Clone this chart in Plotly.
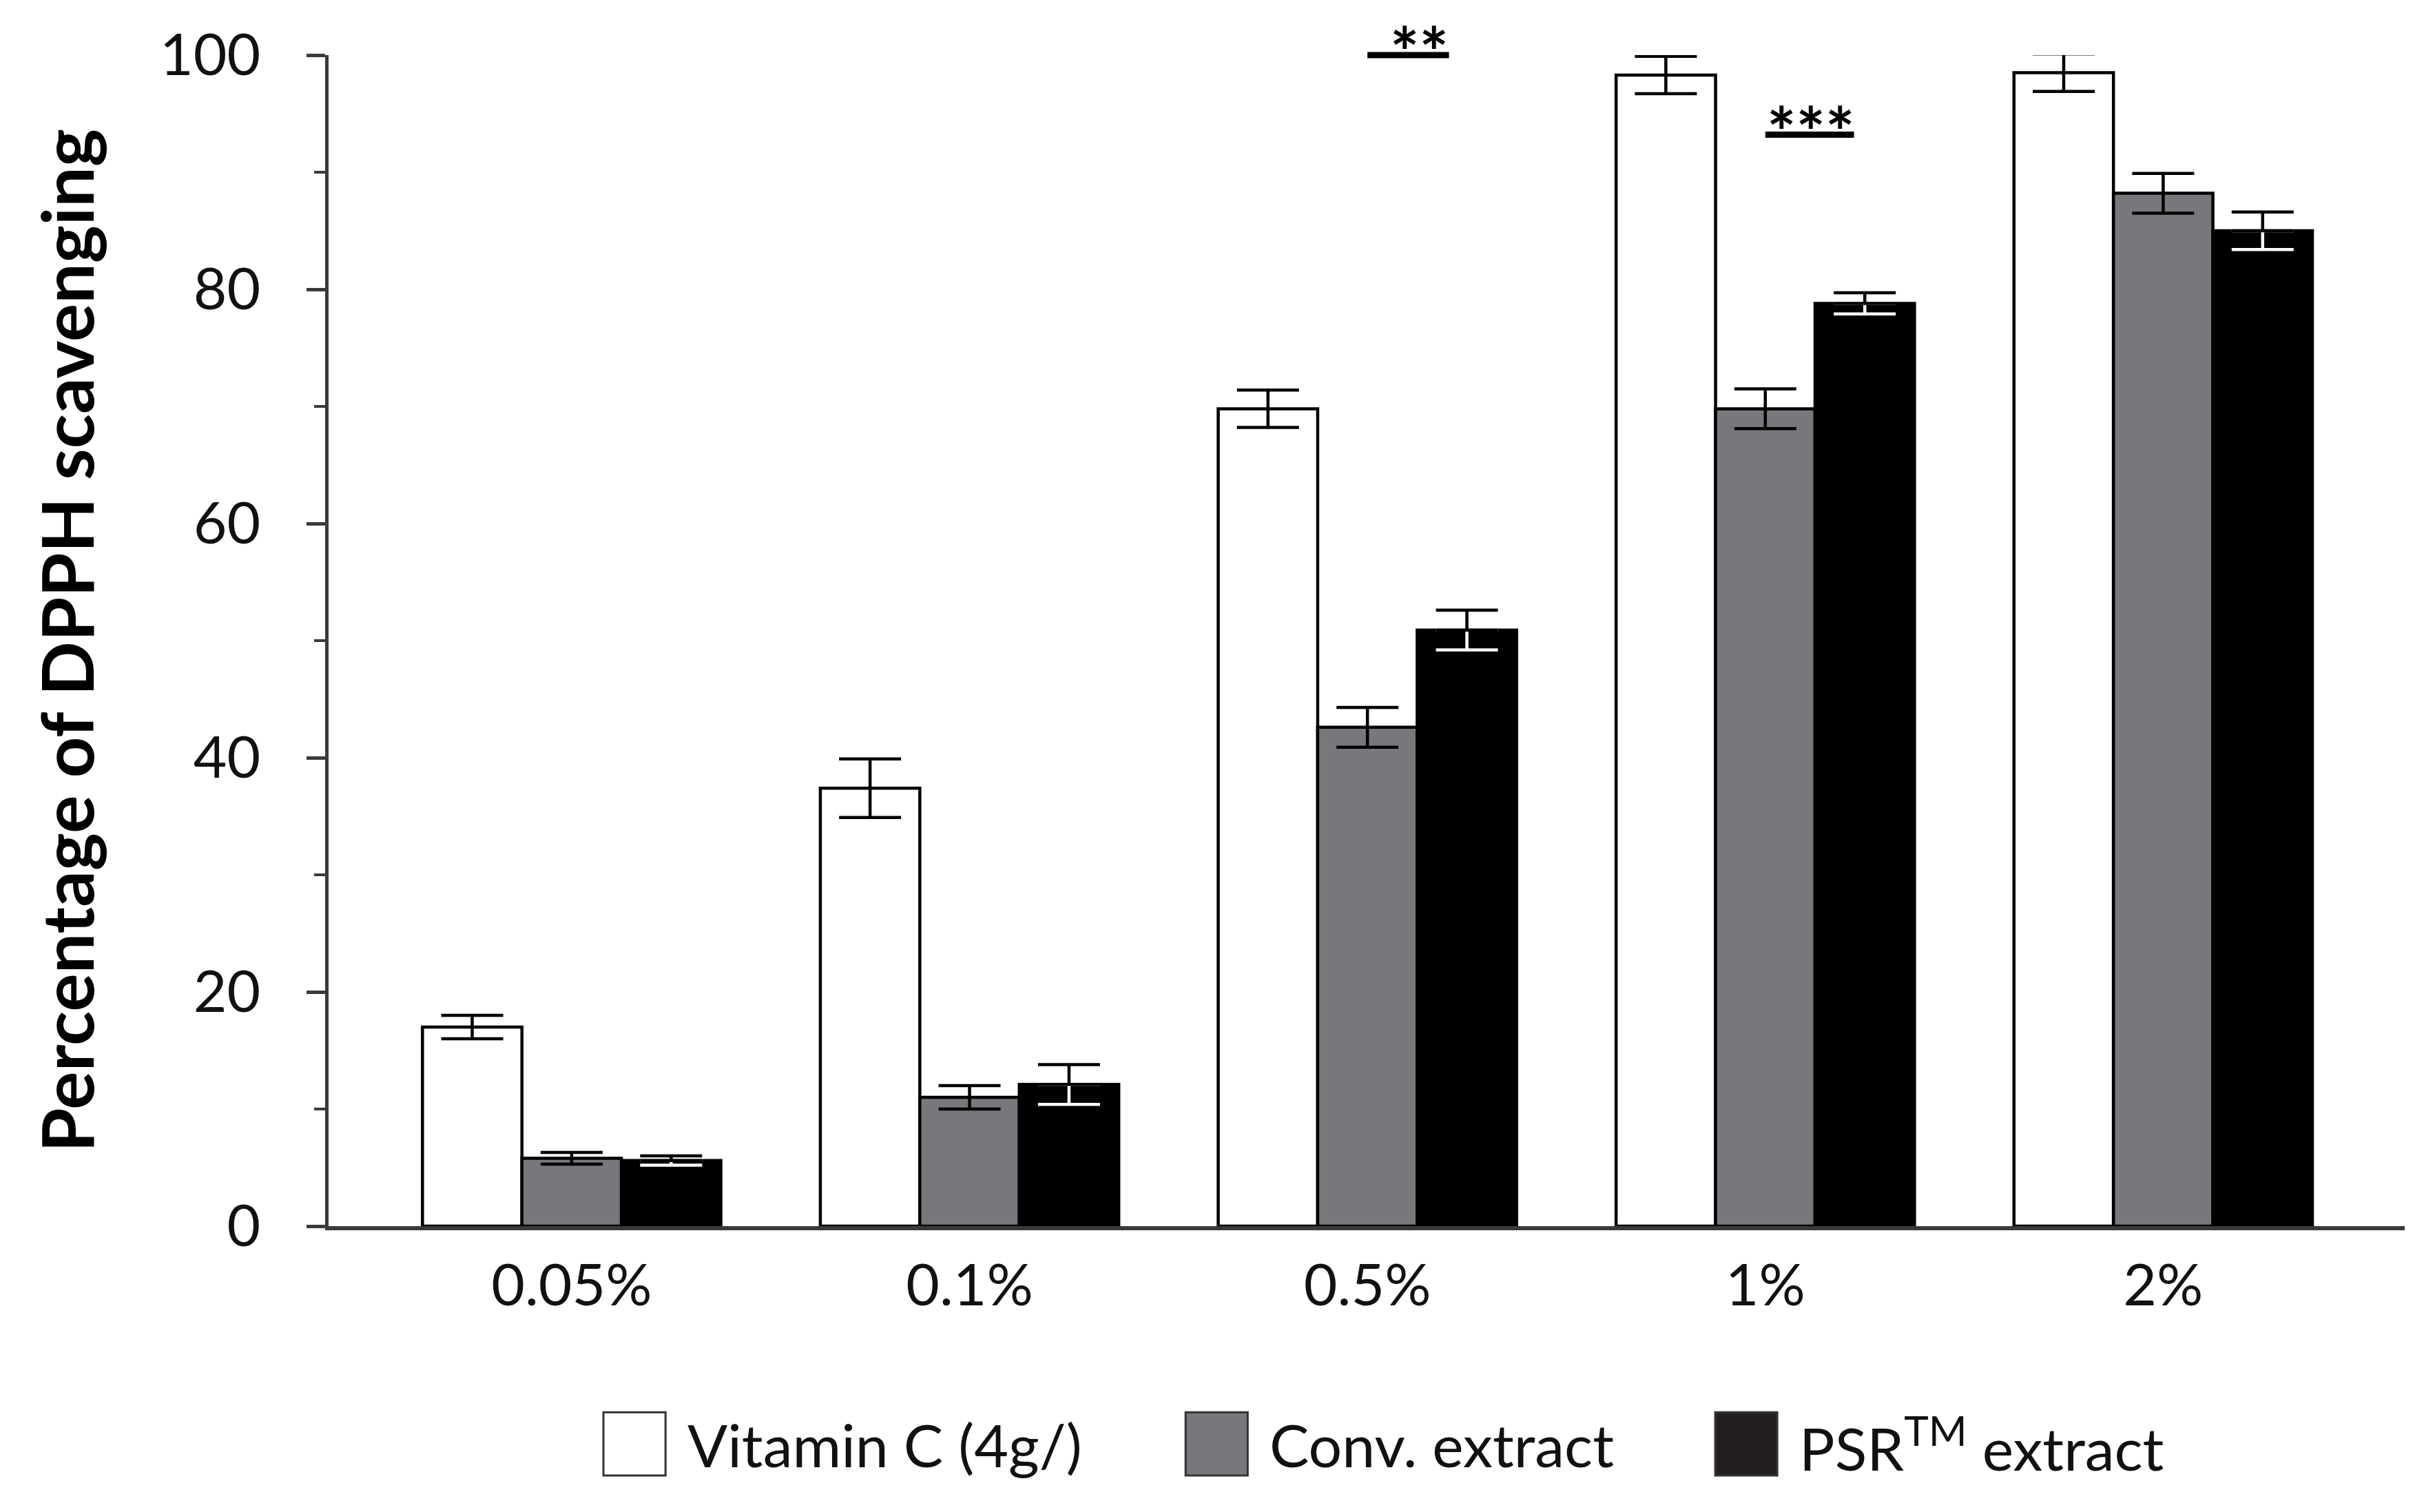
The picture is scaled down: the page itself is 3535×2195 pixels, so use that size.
import plotly.graph_objects as go

# ---------------- data ----------------
categories = ["0.05%", "0.1%", "0.5%", "1%", "2%"]
series_names = ["Vitamin C (4g/)", "Conv. extract", "PSR<sup>TM</sup> extract"]
vitc_vals = [17.0, 37.4, 69.8, 98.3, 98.5]
vitc_err = [1.0, 2.5, 1.6, 1.6, 1.6]
conv_vals = [5.8, 11.0, 42.6, 69.8, 88.2]
conv_err = [0.5, 1.0, 1.7, 1.7, 1.7]
psr_vals = [5.6, 12.1, 50.9, 78.8, 85.0]
psr_err = [0.4, 1.7, 1.7, 0.9, 1.6]
y_tick_vals = [0, 20, 40, 60, 80, 100]
sig_groups = ["0.5%", "1%"]
sig_labels = ["**", "***"]
sig_levels = [100.0, 93.2]

# ---------------- style ----------------
FONT = "Lato"
W, H = 3535, 2195
ML, MR, MT, MB = 469, 52, 72, 423
XR = [-0.611, 4.607]
YR = [0, 100]
GRAY = "#77787c"
DARK = "#000000"
AXC = "#3a3a3a"
ERRW = 45

def xp(v):
    return (v - XR[0]) / (XR[1] - XR[0])

def yp(v):
    return (v - YR[0]) / (YR[1] - YR[0])

fig = go.Figure()
zeros = [0] * len(categories)

fig.add_trace(go.Bar(
    x=categories, y=vitc_vals, name=series_names[0], offsetgroup="a",
    marker=dict(color="white", line=dict(color="black", width=4.5)),
    error_y=dict(type="data", array=vitc_err, color="black", thickness=4.5, width=ERRW),
    cliponaxis=False, showlegend=False))
fig.add_trace(go.Bar(
    x=categories, y=conv_vals, name=series_names[1], offsetgroup="b",
    marker=dict(color=GRAY, line=dict(color="black", width=4.5)),
    error_y=dict(type="data", array=conv_err, color="black", thickness=4.5, width=ERRW),
    cliponaxis=False, showlegend=False))
fig.add_trace(go.Bar(
    x=categories, y=psr_vals, name=series_names[2], offsetgroup="c",
    marker=dict(color=DARK, line=dict(color="black", width=4.5)),
    cliponaxis=False, showlegend=False))
# lower half of PSR error bars (white, inside the black bar)
fig.add_trace(go.Bar(
    x=categories, y=psr_vals, offsetgroup="c", name="PSR error (lower)",
    marker=dict(color="rgba(0,0,0,0)", line=dict(width=0)),
    error_y=dict(type="data", symmetric=False, array=zeros, arrayminus=psr_err,
                 color="white", thickness=4.5, width=ERRW),
    cliponaxis=False, showlegend=False, hoverinfo="skip"))
# upper half of PSR error bars (black)
fig.add_trace(go.Bar(
    x=categories, y=psr_vals, offsetgroup="c", name="PSR error (upper)",
    marker=dict(color="rgba(0,0,0,0)", line=dict(width=0)),
    error_y=dict(type="data", symmetric=False, array=psr_err, arrayminus=zeros,
                 color="black", thickness=4.5, width=ERRW),
    cliponaxis=False, showlegend=False, hoverinfo="skip"))

shapes = []
annotations = []

# significance marks
for g, lab, lev in zip(sig_groups, sig_labels, sig_levels):
    gi = categories.index(g)
    x0 = gi
    x1 = gi + (0.205 if len(lab) == 2 else 0.223)
    xc = gi + (0.13 if len(lab) == 2 else 0.115)
    shapes.append(dict(type="line", xref="paper", yref="paper",
                       x0=xp(x0), x1=xp(x1), y0=yp(lev), y1=yp(lev),
                       line=dict(color="black", width=9)))
    annotations.append(dict(xref="paper", yref="paper", x=xp(xc),
                            y=yp(lev), yanchor="bottom", xanchor="center", yshift=-56,
                            text="<b>" + lab + "</b>", showarrow=False,
                            font=dict(family=FONT, size=100, color="black")))

# legend (drawn manually so the swatches match the reference size)
leg_box_x = [0.1324, 0.4128, 0.6679]
leg_colors = ["white", GRAY, "#231f20"]
box_w = 0.0299
box_top, box_bot = -0.159, -0.213
for bx, col, name in zip(leg_box_x, leg_colors, series_names):
    shapes.append(dict(type="rect", xref="paper", yref="paper",
                       x0=bx, x1=bx + box_w, y0=box_bot, y1=box_top,
                       fillcolor=col, line=dict(color="#333333", width=3)))
    annotations.append(dict(xref="paper", yref="paper", x=bx + box_w + 0.010,
                            y=(box_top + box_bot) / 2, xanchor="left", yanchor="middle",
                            text=name, showarrow=False,
                            font=dict(family=FONT, size=86, color="#111111")))

fig.update_layout(
    width=W, height=H,
    margin=dict(l=ML, r=MR, t=MT, b=MB, pad=0),
    paper_bgcolor="white", plot_bgcolor="white",
    barmode="group", bargap=0.25, bargroupgap=0,
    showlegend=False,
    font=dict(family=FONT, color="#111111"),
    shapes=shapes, annotations=annotations,
    xaxis=dict(type="category", range=XR, showgrid=False, zeroline=False,
               showline=True, linecolor=AXC, linewidth=6, ticks="",
               tickfont=dict(family=FONT, size=84, color="#111111"),
               ticklabelstandoff=8),
    yaxis=dict(range=YR, tickvals=y_tick_vals, showgrid=False, zeroline=False,
               showline=True, linecolor=AXC, linewidth=5,
               ticks="outside", ticklen=27, tickwidth=5, tickcolor=AXC,
               minor=dict(dtick=10, ticks="outside", ticklen=16, tickwidth=4, tickcolor=AXC),
               tickfont=dict(family=FONT, size=84, color="#111111"),
               ticklabelstandoff=50,
               title=dict(text="<b>Percentage of DPPH scavenging</b>",
                          font=dict(family=FONT, size=104, color="black"), standoff=62)),
)

fig.write_html("out.html")
